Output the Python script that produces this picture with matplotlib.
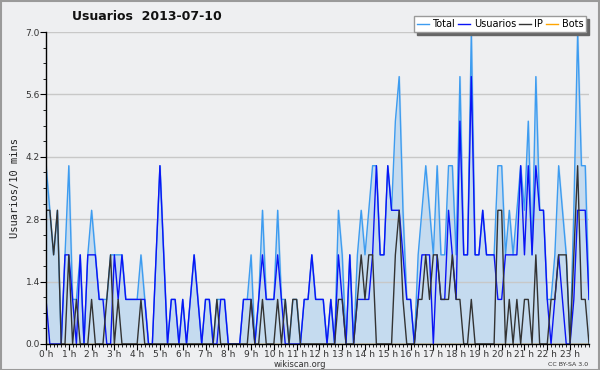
import numpy as np
import matplotlib
matplotlib.use("Agg")
from matplotlib import pyplot as plt
from matplotlib.ticker import MultipleLocator

# counts per 10-minute slot, 2013-07-10 (144 slots)
usuarios = [1, 0, 0, 0, 0, 2, 2, 1, 0, 2, 0, 2, 2, 2, 1, 1, 0, 0, 2, 1, 2, 1, 1, 1,
            1, 1, 1, 0, 0, 2, 4, 2, 0, 1, 1, 0, 1, 0, 1, 2, 1, 0, 1, 1, 0, 0, 1, 1,
            0, 0, 0, 0, 1, 1, 1, 0, 1, 2, 1, 1, 1, 2, 1, 0, 0, 0, 0, 0, 1, 1, 2, 1,
            1, 1, 0, 1, 0, 2, 1, 0, 2, 0, 1, 1, 1, 1, 2, 4, 2, 2, 4, 3, 3, 3, 2, 1,
            1, 0, 1, 2, 2, 2, 0, 2, 1, 1, 3, 2, 1, 5, 2, 2, 6, 2, 2, 3, 2, 2, 2, 1,
            1, 2, 2, 2, 2, 4, 2, 4, 2, 4, 3, 3, 1, 0, 1, 2, 1, 0, 0, 1, 3, 3, 3, 1]
ip = [3, 3, 2, 3, 0, 0, 2, 0, 1, 0, 0, 0, 1, 0, 0, 0, 1, 2, 0, 1, 0, 0, 0, 0,
      0, 1, 0, 0, 0, 0, 0, 0, 0, 0, 0, 0, 0, 0, 0, 0, 0, 0, 0, 0, 0, 1, 0, 0,
      0, 0, 0, 0, 0, 0, 1, 0, 0, 1, 0, 0, 0, 1, 0, 1, 0, 1, 1, 0, 0, 0, 0, 0,
      0, 0, 0, 0, 0, 1, 1, 0, 0, 0, 1, 2, 1, 2, 2, 0, 0, 0, 0, 0, 2, 3, 1, 0,
      0, 0, 1, 1, 2, 1, 2, 2, 1, 1, 1, 2, 1, 1, 0, 0, 1, 0, 0, 0, 0, 0, 0, 3,
      3, 0, 1, 0, 1, 0, 1, 1, 0, 2, 0, 0, 0, 1, 1, 2, 2, 2, 0, 2, 4, 1, 1, 0]
total = [4, 3, 2, 3, 0, 2, 4, 1, 1, 2, 0, 2, 3, 2, 1, 1, 1, 2, 2, 2, 2, 1, 1, 1,
         1, 2, 1, 0, 0, 2, 4, 2, 0, 1, 1, 0, 1, 0, 1, 2, 1, 0, 1, 1, 0, 1, 1, 1,
         0, 0, 0, 0, 1, 1, 2, 0, 1, 3, 1, 1, 1, 3, 1, 1, 0, 1, 1, 0, 1, 1, 2, 1,
         1, 1, 0, 1, 0, 3, 2, 0, 2, 0, 2, 3, 2, 3, 4, 4, 2, 2, 4, 3, 5, 6, 3, 1,
         1, 0, 2, 3, 4, 3, 2, 4, 2, 2, 4, 4, 2, 6, 2, 2, 7, 2, 2, 3, 2, 2, 2, 4,
         4, 2, 3, 2, 3, 4, 3, 5, 2, 6, 3, 3, 1, 1, 2, 4, 3, 2, 0, 3, 7, 4, 4, 1]
bots = [0] * 144
hour_labels = ["%d h" % h for h in range(24)]

BG = "#eeeff1"
C_TOTAL = "#3d9cf0"
C_USR = "#0a14f5"
C_IP = "#333333"
C_BOTS = "#ffa500"

fig = plt.figure(figsize=(6, 3.7), dpi=100, facecolor=BG)
fig.patches.append(plt.Rectangle((0.001, 0.001), 0.997, 0.997, transform=fig.transFigure,
                                 fill=False, edgecolor="#9a9a9a", linewidth=1.5))
ax = fig.add_axes([0.0767, 0.0703, 0.905, 0.8432])
ax.set_facecolor(BG)

x = np.arange(len(total))
ax.fill_between(x, total, color="#c5dbef", zorder=1)
ax.plot(x, bots, color=C_BOTS, lw=1, zorder=2)
ax.plot(x, total, color=C_TOTAL, lw=1, zorder=3)
ax.plot(x, usuarios, color=C_USR, lw=1, zorder=4)
ax.plot(x, ip, color=C_IP, lw=1, zorder=5)

ax.set_xlim(0, 143)
ax.set_ylim(0, 7.0)
ax.set_yticks([0, 1.4, 2.8, 4.2, 5.6, 7.0])
ax.set_yticklabels(["0.0", "1.4", "2.8", "4.2", "5.6", "7.0"])
ax.yaxis.set_minor_locator(MultipleLocator(0.35))
ax.set_xticks(np.arange(0, 144, 6))
ax.set_xticklabels(hour_labels)
ax.xaxis.set_minor_locator(MultipleLocator(1))
ax.tick_params(axis="both", labelsize=6.5, colors="#333333", pad=0.5)
ax.tick_params(which="major", length=4, width=0.8, color="black")
ax.tick_params(which="minor", length=2.5, width=0.6, color="black")
ax.grid(axis="y", color="#c8c8c8", lw=1, zorder=0)
for s in ["top", "right"]:
    ax.spines[s].set_visible(False)
for s in ["left", "bottom"]:
    ax.spines[s].set_color("black")
    ax.spines[s].set_linewidth(1)
    ax.spines[s].set_zorder(6)

ax.set_ylabel("Usuarios/10 mins", family="DejaVu Sans Mono", fontsize=7.5,
              color="#222222", labelpad=4)
fig.text(0.5, 0.016, "wikiscan.org", ha="center", va="center", fontsize=6, color="#333333")
fig.text(0.98, 0.014, "CC BY-SA 3.0", ha="right", va="center", fontsize=4.5, color="#333333")
fig.text(0.245, 0.955, "Usuarios  2013-07-10", ha="center", va="center",
         fontsize=9, fontweight="bold", color="#111111")

leg = ax.legend(handles=[plt.Line2D([], [], color=c, lw=1) for c in (C_TOTAL, C_USR, C_IP, C_BOTS)],
                labels=["Total", "Usuarios", "IP", "Bots"], ncol=4, loc="upper right",
                bbox_to_anchor=(0.995, 1.05), fontsize=7, frameon=True, fancybox=False,
                shadow={"color": "#666666", "alpha": 1}, handlelength=1.2, handletextpad=0.4,
                columnspacing=0.3, borderpad=0.3, borderaxespad=0)
leg.get_frame().set_edgecolor("#9a9a9a")
leg.get_frame().set_linewidth(1)
leg.set_zorder(10)

fig.savefig("out.png", dpi=100, facecolor=BG)
